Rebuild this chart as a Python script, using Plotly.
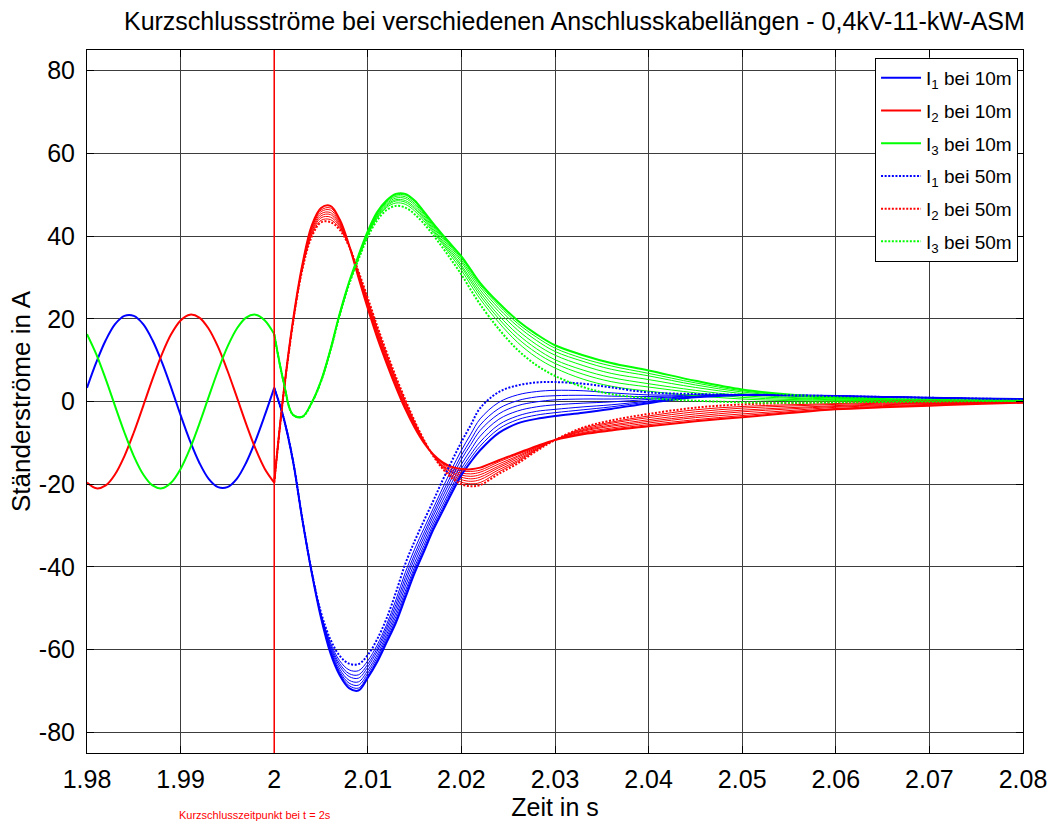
import plotly.graph_objects as go

# ---------------------------------------------------------------------------
# Measured stator currents (A) of the 11 kW induction machine, 0.4 kV grid
# ---------------------------------------------------------------------------

# pre-fault interval (identical for all cable lengths)
t_pre = [1.980, 1.981, 1.982, 1.983, 1.984, 1.985, 1.986, 1.987, 1.988, 1.989,
         1.990, 1.991, 1.992, 1.993, 1.994, 1.995, 1.996, 1.997, 1.998, 1.999, 2.000]
i1_pre = [3.3, 9.5, 14.8, 18.7, 20.7, 20.7, 18.7, 14.8, 9.5, 3.3,
          -3.3, -9.5, -14.8, -18.7, -20.7, -20.7, -18.7, -14.8, -9.5, -3.3, 3.3]
i2_pre = [-19.6, -21.0, -20.3, -17.6, -13.2, -7.5, -1.1, 5.4, 11.4, 16.3,
          19.6, 21.0, 20.3, 17.6, 13.2, 7.5, 1.1, -5.4, -11.4, -16.3, -19.6]
i3_pre = [16.3, 11.4, 5.4, -1.1, -7.5, -13.2, -17.6, -20.3, -21.0, -19.6,
          -16.3, -11.4, -5.4, 1.1, 7.5, 13.2, 17.6, 20.3, 21.0, 19.6, 16.3]

# after the short circuit at t = 2 s
t_post = [2.000, 2.001, 2.002, 2.003, 2.004, 2.005, 2.006, 2.007, 2.008, 2.009,
          2.010, 2.011, 2.012, 2.013, 2.014, 2.015, 2.016, 2.017, 2.018, 2.019,
          2.020, 2.021, 2.022, 2.024, 2.026, 2.028, 2.030, 2.033, 2.036, 2.040,
          2.045, 2.050, 2.055, 2.060, 2.065, 2.070, 2.075, 2.080]

cable_lengths = [10, 15, 20, 25, 30, 35, 40, 50]

# phase 1
i1_10m = [3.3, -3.9, -14.3, -28.5, -41.3, -52.3, -60.8, -66.2, -69.3, -69.9, -66.8, -63.0, -58.3, -53.5, -47.5, -41.5, -36.3, -31.0, -26.5, -22.0, -17.8, -14.6, -11.8, -7.6, -5.3, -4.2, -3.5, -2.7, -1.8, -0.4, 1.0, 1.6, 1.5, 1.3, 1.1, 0.9, 0.7, 0.6]
i1_15m = [3.3, -3.9, -14.3, -28.5, -41.3, -52.2, -60.5, -65.7, -68.7, -69.3, -66.3, -62.5, -57.7, -52.8, -46.7, -40.7, -35.6, -30.3, -25.8, -21.2, -17.0, -13.7, -10.8, -6.6, -4.4, -3.3, -2.7, -2.0, -1.3, -0.1, 1.1, 1.6, 1.5, 1.3, 1.1, 0.9, 0.7, 0.6]
i1_20m = [3.3, -3.9, -14.3, -28.5, -41.2, -52.0, -60.1, -65.3, -68.1, -68.6, -65.7, -61.9, -57.1, -52.0, -45.9, -40.0, -34.8, -29.6, -25.0, -20.5, -16.2, -12.8, -9.8, -5.6, -3.5, -2.4, -1.9, -1.3, -0.8, 0.1, 1.2, 1.6, 1.5, 1.3, 1.1, 0.9, 0.7, 0.6]
i1_25m = [3.3, -3.9, -14.3, -28.4, -41.2, -51.9, -59.7, -64.7, -67.4, -67.8, -65.0, -61.2, -56.4, -51.1, -44.8, -39.0, -33.8, -28.7, -24.0, -19.5, -15.2, -11.7, -8.4, -4.3, -2.3, -1.3, -0.8, -0.4, -0.1, 0.5, 1.3, 1.6, 1.5, 1.3, 1.1, 0.9, 0.7, 0.6]
i1_30m = [3.3, -3.9, -14.3, -28.4, -41.2, -51.7, -59.3, -64.0, -66.5, -66.9, -64.2, -60.4, -55.6, -50.1, -43.7, -37.9, -32.8, -27.7, -23.0, -18.4, -14.0, -10.4, -7.0, -3.0, -1.0, -0.1, 0.4, 0.6, 0.6, 0.8, 1.4, 1.6, 1.5, 1.3, 1.1, 0.9, 0.7, 0.5]
i1_35m = [3.3, -3.9, -14.2, -28.4, -41.1, -51.5, -58.8, -63.4, -65.8, -66.1, -63.5, -59.7, -54.8, -49.1, -42.6, -36.9, -31.8, -26.8, -22.0, -17.4, -13.0, -9.3, -5.7, -1.7, 0.2, 1.1, 1.4, 1.5, 1.3, 1.2, 1.5, 1.6, 1.5, 1.3, 1.1, 0.9, 0.7, 0.5]
i1_40m = [3.3, -3.9, -14.2, -28.4, -41.1, -51.3, -58.3, -62.7, -64.9, -65.1, -62.7, -58.9, -54.0, -48.0, -41.4, -35.7, -30.7, -25.8, -20.9, -16.2, -11.8, -7.9, -4.2, -0.2, 1.6, 2.4, 2.7, 2.6, 2.1, 1.6, 1.6, 1.6, 1.5, 1.3, 1.1, 0.9, 0.7, 0.5]
i1_50m = [3.3, -3.9, -14.2, -28.3, -41.0, -51.0, -57.5, -61.5, -63.4, -63.5, -61.3, -57.5, -52.5, -46.2, -39.3, -33.8, -28.8, -24.0, -19.0, -14.3, -9.8, -5.7, -1.6, 2.3, 3.9, 4.6, 4.7, 4.3, 3.4, 2.2, 1.8, 1.6, 1.5, 1.3, 1.1, 0.9, 0.7, 0.5]

# phase 2
i2_10m = [-19.6, 2.0, 19.5, 33.0, 42.5, 46.8, 47.3, 44.0, 37.8, 30.0, 22.5, 15.5, 9.3, 3.5, -1.8, -6.3, -10.0, -12.8, -14.7, -15.8, -16.3, -16.4, -16.0, -14.2, -12.5, -10.8, -9.3, -7.9, -7.0, -6.0, -4.8, -3.8, -2.8, -1.9, -1.4, -1.0, -0.6, -0.3]
i2_15m = [-19.6, 2.0, 19.4, 32.8, 42.1, 46.3, 46.8, 43.7, 37.8, 30.2, 22.8, 15.9, 9.6, 3.8, -1.5, -6.1, -9.9, -12.9, -14.9, -16.2, -16.8, -16.9, -16.6, -14.6, -12.8, -11.0, -9.3, -7.7, -6.7, -5.6, -4.4, -3.4, -2.5, -1.7, -1.2, -0.9, -0.5, -0.3]
i2_20m = [-19.6, 1.9, 19.3, 32.7, 41.8, 45.9, 46.3, 43.3, 37.7, 30.4, 23.2, 16.3, 10.0, 4.2, -1.2, -5.9, -9.8, -12.9, -15.1, -16.6, -17.3, -17.5, -17.1, -15.1, -13.2, -11.1, -9.3, -7.5, -6.4, -5.2, -3.9, -3.0, -2.2, -1.4, -1.0, -0.7, -0.4, -0.2]
i2_25m = [-19.6, 1.9, 19.2, 32.5, 41.4, 45.4, 45.7, 43.0, 37.7, 30.6, 23.5, 16.7, 10.4, 4.5, -0.9, -5.6, -9.7, -13.0, -15.4, -17.0, -17.8, -18.1, -17.7, -15.6, -13.5, -11.3, -9.3, -7.2, -6.0, -4.8, -3.5, -2.5, -1.8, -1.2, -0.8, -0.5, -0.4, -0.2]
i2_30m = [-19.6, 1.9, 19.1, 32.3, 41.0, 44.9, 45.2, 42.6, 37.6, 30.8, 23.9, 17.0, 10.8, 4.9, -0.5, -5.4, -9.6, -13.0, -15.6, -17.3, -18.3, -18.7, -18.3, -16.0, -13.9, -11.5, -9.3, -7.0, -5.7, -4.4, -3.0, -2.1, -1.5, -1.0, -0.6, -0.4, -0.3, -0.2]
i2_35m = [-19.6, 1.9, 19.0, 32.2, 40.6, 44.4, 44.6, 42.3, 37.6, 31.1, 24.3, 17.5, 11.2, 5.3, -0.2, -5.2, -9.5, -13.1, -15.8, -17.8, -18.9, -19.3, -18.9, -16.5, -14.3, -11.6, -9.3, -6.8, -5.3, -3.9, -2.5, -1.6, -1.1, -0.7, -0.4, -0.2, -0.2, -0.2]
i2_40m = [-19.6, 1.8, 18.9, 32.0, 40.2, 43.8, 44.0, 41.9, 37.5, 31.3, 24.6, 17.9, 11.6, 5.6, 0.2, -4.9, -9.4, -13.1, -16.1, -18.2, -19.5, -19.9, -19.6, -17.0, -14.6, -11.8, -9.3, -6.5, -5.0, -3.5, -2.0, -1.2, -0.8, -0.5, -0.2, -0.1, -0.1, -0.1]
i2_50m = [-19.6, 1.8, 18.8, 31.8, 39.8, 43.3, 43.4, 41.5, 37.5, 31.5, 25.0, 18.3, 12.0, 6.0, 0.5, -4.7, -9.3, -13.2, -16.3, -18.6, -20.0, -20.5, -20.2, -17.5, -15.0, -12.0, -9.3, -6.3, -4.6, -3.0, -1.5, -0.7, -0.4, -0.2, 0.0, 0.1, 0.0, -0.1]

# phase 3
i3_10m = [16.3, 4.8, -3.2, -3.7, -0.3, 5.0, 12.5, 21.3, 28.9, 35.3, 41.2, 45.8, 48.6, 50.2, 50.2, 48.6, 45.9, 43.0, 40.3, 37.7, 35.1, 31.9, 28.7, 23.8, 19.6, 16.3, 13.6, 11.2, 9.3, 7.5, 5.0, 2.9, 1.7, 1.0, 0.6, 0.4, 0.3, 0.2]
i3_15m = [16.3, 4.8, -3.2, -3.7, -0.3, 5.0, 12.5, 21.3, 28.8, 35.2, 41.1, 45.6, 48.4, 49.9, 49.9, 48.3, 45.6, 42.7, 40.0, 37.3, 34.7, 31.4, 28.2, 23.2, 18.9, 15.6, 12.9, 10.4, 8.6, 6.8, 4.5, 2.6, 1.5, 0.9, 0.5, 0.4, 0.3, 0.2]
i3_20m = [16.3, 4.8, -3.2, -3.7, -0.3, 5.0, 12.4, 21.2, 28.8, 35.1, 40.9, 45.4, 48.1, 49.6, 49.5, 47.9, 45.3, 42.4, 39.7, 37.0, 34.2, 30.9, 27.7, 22.5, 18.2, 14.8, 12.1, 9.7, 7.8, 6.2, 4.0, 2.3, 1.3, 0.8, 0.5, 0.3, 0.3, 0.2]
i3_25m = [16.3, 4.8, -3.2, -3.7, -0.3, 4.9, 12.4, 21.1, 28.7, 35.0, 40.7, 45.1, 47.8, 49.2, 49.1, 47.5, 44.9, 42.1, 39.3, 36.5, 33.7, 30.3, 27.0, 21.7, 17.3, 13.8, 11.2, 8.7, 6.8, 5.3, 3.4, 1.9, 1.0, 0.6, 0.4, 0.3, 0.2, 0.2]
i3_30m = [16.3, 4.8, -3.2, -3.7, -0.3, 4.9, 12.4, 21.1, 28.6, 34.8, 40.5, 44.9, 47.5, 48.8, 48.6, 47.0, 44.5, 41.7, 38.8, 36.0, 33.0, 29.6, 26.3, 20.8, 16.3, 12.8, 10.1, 7.6, 5.8, 4.3, 2.7, 1.4, 0.8, 0.4, 0.3, 0.2, 0.2, 0.2]
i3_35m = [16.3, 4.8, -3.2, -3.7, -0.4, 4.9, 12.3, 21.0, 28.5, 34.7, 40.4, 44.6, 47.2, 48.5, 48.2, 46.6, 44.2, 41.3, 38.4, 35.5, 32.5, 29.0, 25.6, 20.0, 15.3, 11.8, 9.2, 6.6, 4.8, 3.5, 2.1, 1.0, 0.5, 0.3, 0.2, 0.2, 0.2, 0.1]
i3_40m = [16.3, 4.8, -3.2, -3.7, -0.4, 4.9, 12.3, 20.9, 28.5, 34.5, 40.2, 44.3, 46.9, 48.0, 47.7, 46.1, 43.7, 40.9, 38.0, 34.9, 31.8, 28.2, 24.8, 19.1, 14.3, 10.7, 8.1, 5.4, 3.7, 2.5, 1.4, 0.6, 0.2, 0.1, 0.1, 0.1, 0.2, 0.1]
i3_50m = [16.3, 4.8, -3.2, -3.7, -0.4, 4.8, 12.2, 20.8, 28.3, 34.3, 39.8, 43.8, 46.3, 47.3, 46.9, 45.3, 43.0, 40.2, 37.2, 34.0, 30.7, 27.0, 23.5, 17.5, 12.5, 8.8, 6.2, 3.5, 1.8, 0.8, 0.2, -0.2, -0.3, -0.2, -0.1, 0.0, 0.1, 0.1]

x_tick_vals = [1.98, 1.99, 2.00, 2.01, 2.02, 2.03, 2.04, 2.05, 2.06, 2.07, 2.08]
x_tick_text = ["1.98", "1.99", "2", "2.01", "2.02", "2.03", "2.04", "2.05", "2.06", "2.07", "2.08"]
y_tick_vals = [-80, -60, -40, -20, 0, 20, 40, 60, 80]
y_tick_text = ["-80", "-60", "-40", "-20", "0", "20", "40", "60", "80"]

fault_time = 2.0

# ---------------------------------------------------------------------------
phase_post = [
    [i1_10m, i1_15m, i1_20m, i1_25m, i1_30m, i1_35m, i1_40m, i1_50m],
    [i2_10m, i2_15m, i2_20m, i2_25m, i2_30m, i2_35m, i2_40m, i2_50m],
    [i3_10m, i3_15m, i3_20m, i3_25m, i3_30m, i3_35m, i3_40m, i3_50m],
]
phase_pre = [i1_pre, i2_pre, i3_pre]
phase_colors = ["#0000ff", "#ff0000", "#00ff00"]

for series in phase_post:
    for s in series:
        assert len(s) == len(t_post), len(s)
for s in phase_pre:
    assert len(s) == len(t_pre)

FONT = "Liberation Sans, Arial, Helvetica, sans-serif"

fig = go.Figure()

# pre-fault waveforms
for p in range(3):
    fig.add_trace(go.Scatter(
        x=t_pre, y=phase_pre[p], mode="lines",
        line=dict(color=phase_colors[p], width=2, shape="spline"),
        showlegend=False, hoverinfo="skip"))

# intermediate cable lengths (thin, no legend entry)
for k in range(1, len(cable_lengths) - 1):
    for p in range(3):
        fig.add_trace(go.Scatter(
            x=t_post, y=phase_post[p][k], mode="lines",
            line=dict(color=phase_colors[p], width=1, shape="spline"),
            name=f"I{p+1} bei {cable_lengths[k]}m", showlegend=False))

# shortest and longest cable (legend entries, one group each for row spacing)
for k, dash, rank0 in [(0, "solid", 1), (len(cable_lengths) - 1, "2px,1.6px", 4)]:
    for p in range(3):
        fig.add_trace(go.Scatter(
            x=t_post, y=phase_post[p][k], mode="lines",
            line=dict(color=phase_colors[p], width=2, dash=dash, shape="spline"),
            name=f"I<sub>{p+1}</sub> bei {cable_lengths[k]}m",
            legendgroup=f"g{rank0 + p}", legendrank=rank0 + p, showlegend=True))

# fault instant
fig.add_shape(type="line", x0=fault_time, x1=fault_time, y0=0, y1=1,
              xref="x", yref="paper", line=dict(color="#ff0000", width=1.5))
fig.add_annotation(text="Kurzschlusszeitpunkt bei t = 2s",
                   x=1.998, y=-0.088, xref="x", yref="paper",
                   xanchor="center", yanchor="middle", showarrow=False,
                   font=dict(family=FONT, size=11, color="#ff0000"))

axis_common = dict(
    showgrid=True, gridcolor="#3c3c3c", gridwidth=1,
    showline=True, linecolor="black", linewidth=1, mirror="ticks",
    ticks="inside", ticklen=7, tickcolor="black", automargin=False,
    zeroline=False, tickfont=dict(family=FONT, size=25, color="black"),
)

fig.update_xaxes(range=[1.98, 2.08], tickvals=x_tick_vals, ticktext=x_tick_text,
                 title=dict(text="Zeit in s", font=dict(family=FONT, size=25), standoff=0),
                 ticklabelstandoff=4, **axis_common)
fig.update_yaxes(range=[-85, 85], tickvals=y_tick_vals, ticktext=y_tick_text,
                 title=dict(text="Ständerströme in A", font=dict(family=FONT, size=26), standoff=0),
                 ticklabelstandoff=6, **axis_common)

fig.update_layout(
    width=1054, height=823,
    margin=dict(l=87, r=31, t=50, b=70, autoexpand=False),
    paper_bgcolor="white", plot_bgcolor="white",
    font=dict(family=FONT, size=25, color="black"),
    title=dict(text="Kurzschlussströme bei verschiedenen Anschlusskabellängen - 0,4kV-11-kW-ASM",
               x=0.545, xref="container", xanchor="center",
               y=1 - 21 / 823, yref="container", yanchor="middle",
               font=dict(family=FONT, size=25, color="black")),
    legend=dict(x=0.9947, xanchor="right", y=0.9886, yanchor="top",
                bgcolor="white", bordercolor="black", borderwidth=1,
                font=dict(family=FONT, size=19, color="black"),
                traceorder="grouped", tracegroupgap=5,
                itemwidth=40),
)

fig.write_html("out.html")
